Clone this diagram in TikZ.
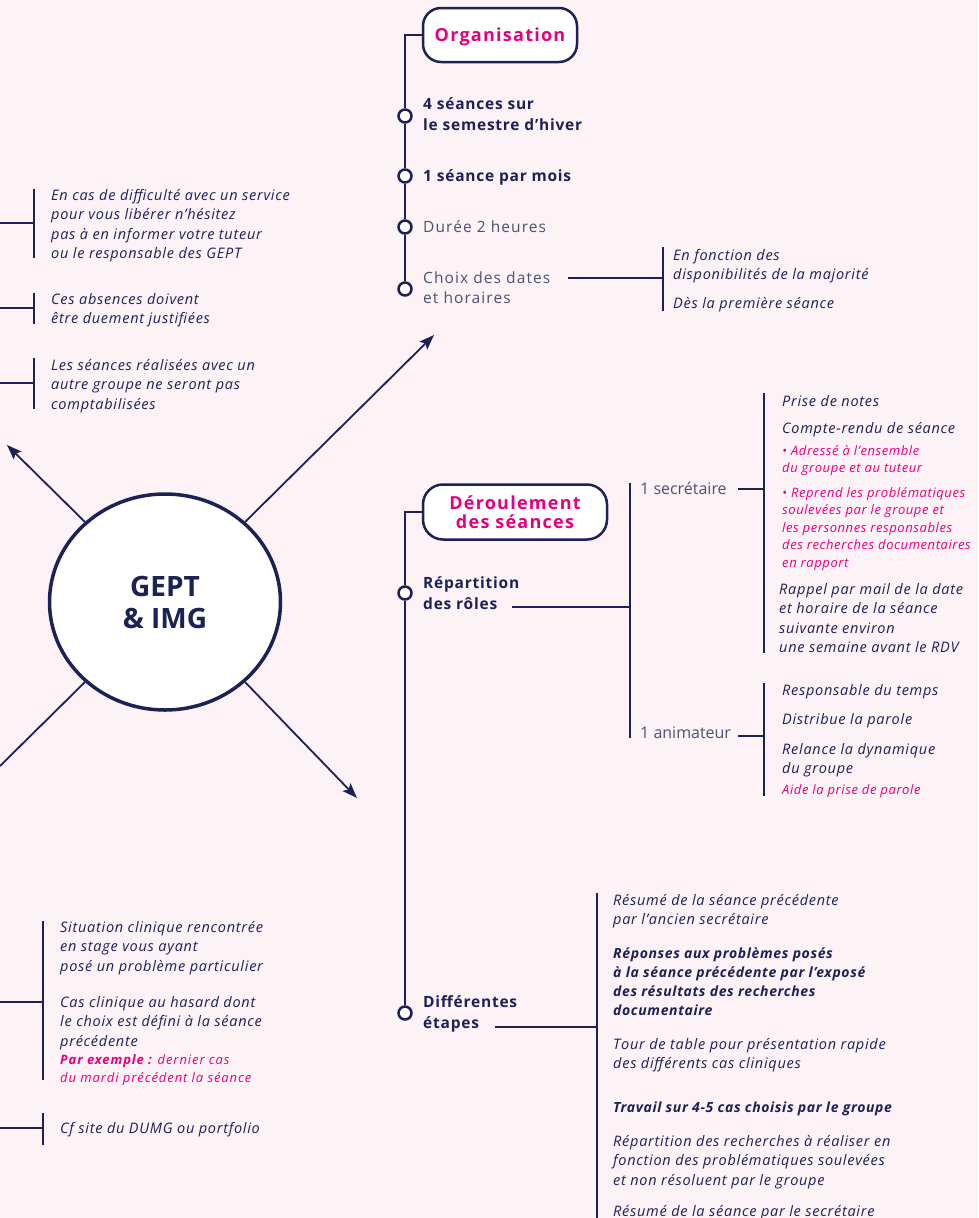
\documentclass[tikz,border=0pt]{standalone}
\usepackage{fontspec}
\setmainfont{Open Sans}[LetterSpace=7]
\newfontfamily\notefont{Open Sans}[LetterSpace=5]
\newfontfamily\tightfont{Open Sans}[LetterSpace=4.5]
\newfontfamily\plainfont{Open Sans}
\usetikzlibrary{shapes.geometric,arrows.meta}

\definecolor{navy}{RGB}{28,33,86}
\definecolor{softnavy}{RGB}{78,82,118}
\definecolor{pinkc}{RGB}{230,0,126}
\definecolor{bgpink}{RGB}{253,242,246}

% multi-line text whose baseline is the first line
\newcommand{\txtlines}[1]{\begin{tabular}[t]{@{}l@{}}#1\end{tabular}}

\tikzset{
  conn/.style={draw=navy, line width=1.8pt},
  bar/.style={draw=navy, line width=2pt},
  arr/.style={draw=navy, line width=1.8pt, -{Stealth[length=15pt,width=11pt,inset=3pt]}},
  titlebox/.style={draw=navy, line width=2.5pt, fill=white, rounded corners=18pt,
    text=pinkc, font=\bfseries\fontsize{18}{19}\selectfont, align=center, inner sep=0pt},
  dot/.style={circle, draw=navy, line width=2.5pt, fill=white, minimum size=13pt, inner sep=0pt},
  head/.style={anchor=base west, inner sep=0pt, text=navy, font=\notefont\bfseries\fontsize{15.5}{21}\selectfont},
  lite/.style={anchor=base west, inner sep=0pt, text=softnavy, font=\fontsize{15.5}{20}\selectfont},
  role/.style={anchor=base west, inner sep=0pt, text=softnavy, font=\plainfont\fontsize{16}{20}\selectfont},
  note/.style={anchor=base west, inner sep=0pt, text=navy, font=\notefont\itshape\fontsize{14.5}{19.5}\selectfont},
  bnote/.style={anchor=base west, inner sep=0pt, text=navy, font=\tightfont\bfseries\itshape\fontsize{14}{19}\selectfont},
  pnote/.style={anchor=base west, inner sep=0pt, text=pinkc, font=\tightfont\itshape\fontsize{13}{17.5}\selectfont},
  pnotew/.style={anchor=base west, inner sep=0pt, text=pinkc, font=\itshape\fontsize{13}{18}\selectfont},
}

\begin{document}
\begin{tikzpicture}[x=1pt,y=-1pt]
\fill[bgpink] (0,0) rectangle (978,1218);
\useasboundingbox (0,0) rectangle (978,1218);

% ---------- central node and its four spokes ----------
\node[ellipse, draw=navy, line width=3.5pt, fill=white, minimum width=231pt, minimum height=216pt,
      inner sep=0pt, text=navy, align=center, font=\plainfont\bfseries\fontsize{28}{32}\selectfont]
      (gept) at (165,602) {GEPT\\\& IMG};

\coordinate (tipUR) at (434,335);
\coordinate (tipUL) at (7,445);
\coordinate (tipDR) at (357,798);
\coordinate (endDL) at (0,766);
\draw[arr] (gept.45) -- (tipUR);
\draw[arr] (gept.135) -- (tipUL);
\draw[arr] (gept.315) -- (tipDR);
\draw[conn] (gept.225) -- (endDL);

% ---------- Organisation ----------
\node[titlebox, minimum width=154pt, minimum height=54pt, text depth=0pt] (org) at (500,35) {Organisation};
\node[dot] (o1) at (405,116) {};
\node[dot] (o2) at (405,176) {};
\node[dot] (o3) at (405,227) {};
\node[dot] (o4) at (405,289) {};
\draw[conn] (org.west) -| (o1.north);
\draw[conn] (o1.south) -- (o2.north);
\draw[conn] (o2.south) -- (o3.north);
\draw[conn] (o3.south) -- (o4.north);

\node[head] (t1) at (423,109) {\txtlines{4 séances sur\\le semestre d’hiver}};
\node[head] (t2) at (423,181) {1 séance par mois};
\node[lite] (t3) at (423,232) {Durée 2 heures};
\node[lite] (t4) at (423,283) {\txtlines{Choix des dates\\et horaires}};

\coordinate (choixR) at (568,278);
\coordinate (choixJ) at (663,278);
\coordinate (choixTop) at (663,247);
\coordinate (choixBot) at (663,311);
\draw[conn] (choixR) -- (choixJ);
\draw[bar] (choixTop) -- (choixBot);
\node[note] (c1) at (673,260) {\txtlines{En fonction des\\disponibilités de la majorité}};
\node[note] (c2) at (673,308) {Dès la première séance};

% ---------- left branch, upper group ----------
\coordinate (lA0) at (0,223);   \coordinate (lAj) at (34,223);
\coordinate (lAt) at (34,189);  \coordinate (lAb) at (34,258);
\draw[conn] (lA0) -- (lAj);
\draw[bar] (lAt) -- (lAb);
\node[note] (la) at (51,200) {\txtlines{En cas de difficulté avec un service\\pour vous libérer n’hésitez\\pas à en informer votre tuteur\\ou le responsable des GEPT}};

\coordinate (lB0) at (0,308);   \coordinate (lBj) at (34,308);
\coordinate (lBt) at (34,293);  \coordinate (lBb) at (34,324);
\draw[conn] (lB0) -- (lBj);
\draw[bar] (lBt) -- (lBb);
\node[note] (lb) at (51,304) {\txtlines{Ces absences doivent\\être duement justifiées}};

\coordinate (lC0) at (0,383);   \coordinate (lCj) at (34,383);
\coordinate (lCt) at (34,358);  \coordinate (lCb) at (34,409);
\draw[conn] (lC0) -- (lCj);
\draw[bar] (lCt) -- (lCb);
\node[note] (lc) at (51,370) {\txtlines{Les séances réalisées avec un\\autre groupe ne seront pas\\comptabilisées}};

% ---------- Déroulement des séances ----------
\node[titlebox, minimum width=184pt, minimum height=55pt, rounded corners=20pt] (der) at (515,512)
  {Déroulement\\des séances};
\node[dot] (r1) at (405,593) {};
\node[dot] (d1) at (405,1013) {};
\draw[conn] (der.west) -| (r1.north);
\draw[conn] (r1.south) -- (d1.north);

\node[head] (rep) at (423,588) {\txtlines{Répartition\\des rôles}};
\coordinate (repR) at (512,607);
\coordinate (repJ) at (630,607);
\coordinate (repTop) at (630,483);
\coordinate (repBot) at (630,738);
\draw[conn] (repR) -- (repJ);
\draw[bar] (repTop) -- (repBot);

% secrétaire
\node[role] (sec) at (640,494) {1 secrétaire};
\coordinate (secR) at (738,489);
\coordinate (secJ) at (764,489);
\coordinate (secTop) at (764,393);
\coordinate (secBot) at (764,653);
\draw[conn] (secR) -- (secJ);
\draw[bar] (secTop) -- (secBot);
\node[note] (s1) at (782,406) {Prise de notes};
\node[note] (s2) at (782,433) {Compte-rendu de séance};
\node[pnote] (s3) at (782,455) {\txtlines{• Adressé à l’ensemble\\du groupe et au tuteur}};
\node[pnote] (s4) at (782,497) {\txtlines{• Reprend les problématiques\\soulevées par le groupe et\\les personnes responsables\\des recherches documentaires\\en rapport}};
\node[note] (s5) at (779,594) {\txtlines{Rappel par mail de la date\\et horaire de la séance\\suivante environ\\une semaine avant le RDV}};

% animateur
\node[role] (ani) at (640,738) {1 animateur};
\coordinate (aniR) at (738,736);
\coordinate (aniJ) at (764,736);
\coordinate (aniTop) at (764,683);
\coordinate (aniBot) at (764,796);
\draw[conn] (aniR) -- (aniJ);
\draw[bar] (aniTop) -- (aniBot);
\node[note] (a1) at (782,695) {Responsable du temps};
\node[note] (a2) at (782,724) {Distribue la parole};
\node[note] (a3) at (782,754) {\txtlines{Relance la dynamique\\du groupe}};
\node[pnote] (a4) at (782,794) {Aide la prise de parole};

% ---------- Différentes étapes ----------
\node[head] (dif) at (423,1007) {\txtlines{Différentes\\étapes}};
\coordinate (difR) at (495,1027);
\coordinate (difJ) at (597,1027);
\coordinate (difTop) at (597,893);
\coordinate (difBot) at (597,1218);
\draw[conn] (difR) -- (difJ);
\draw[bar] (difTop) -- (difBot);
\node[note] (e1) at (613,905) {\txtlines{Résumé de la séance précédente\\par l’ancien secrétaire}};
\node[bnote] (e2) at (613,958) {\txtlines{Réponses aux problèmes posés\\à la séance précédente par l’exposé\\des résultats des recherches\\documentaire}};
\node[note] (e3) at (613,1049) {\txtlines{Tour de table pour présentation rapide\\des différents cas cliniques}};
\node[bnote] (e4) at (613,1112) {Travail sur 4-5 cas choisis par le groupe};
\node[note] (e5) at (613,1146) {\txtlines{Répartition des recherches à réaliser en\\fonction des problématiques soulevées\\et non résoluent par le groupe}};
\node[note] (e6) at (613,1216) {Résumé de la séance par le secrétaire};

% ---------- left branch, lower group ----------
\coordinate (lD0) at (0,1002);  \coordinate (lDj) at (43,1002);
\coordinate (lDt) at (43,921);  \coordinate (lDb) at (43,1080);
\draw[conn] (lD0) -- (lDj);
\draw[bar] (lDt) -- (lDb);
\node[note] (ld1) at (60,932) {\txtlines{Situation clinique rencontrée\\en stage vous ayant\\posé un problème particulier}};
\node[note] (ld2) at (60,1007) {\txtlines{Cas clinique au hasard dont\\le choix est défini à la séance\\précédente}};
\node[pnotew] (ld3) at (60,1064) {\txtlines{\textbf{Par exemple :} dernier cas\\du mardi précédent la séance}};

\coordinate (lE0) at (0,1128);  \coordinate (lEj) at (43,1128);
\coordinate (lEt) at (43,1113); \coordinate (lEb) at (43,1145);
\draw[conn] (lE0) -- (lEj);
\draw[bar] (lEt) -- (lEb);
\node[note] (le) at (60,1133) {Cf site du DUMG ou portfolio};

\end{tikzpicture}
\end{document}
